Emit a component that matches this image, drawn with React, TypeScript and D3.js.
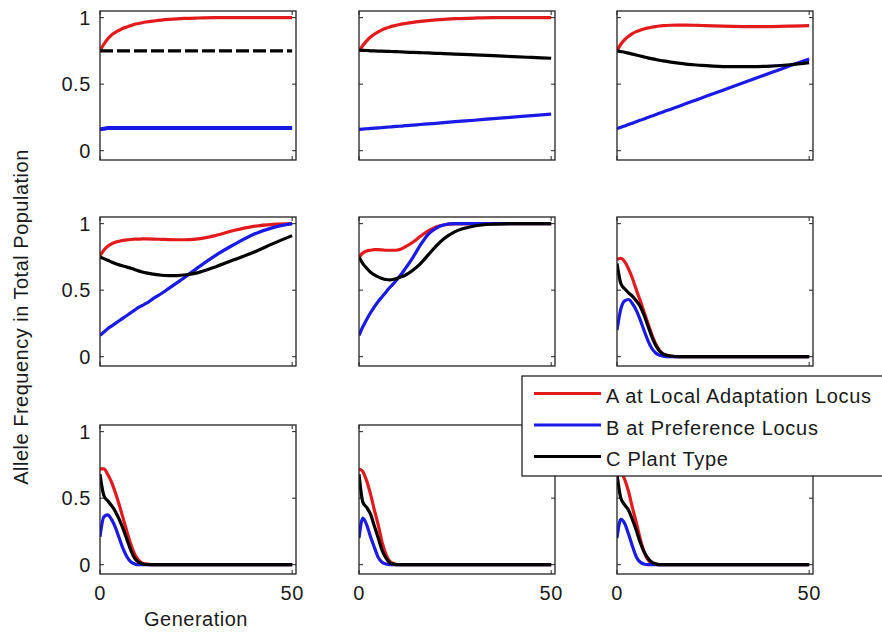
import React from "react";
import * as d3 from "d3";

// Generations at which the allele frequencies are sampled
const GENERATIONS = [0, 1, 2, 3, 4, 5, 6, 7, 8, 9, 10, 11, 12, 14, 16, 18, 20, 22, 25, 30, 35, 40, 45, 50];

// Row 1
const p11Red = [0.75, 0.8, 0.84, 0.87, 0.89, 0.905, 0.92, 0.93, 0.94, 0.95, 0.956, 0.962, 0.967, 0.975, 0.982, 0.987, 0.991, 0.994, 0.997, 1, 1, 1, 1, 1];
const p11Blue = [0.16, 0.165, 0.17, 0.17, 0.17, 0.17, 0.17, 0.17, 0.17, 0.17, 0.17, 0.17, 0.17, 0.17, 0.17, 0.17, 0.17, 0.17, 0.17, 0.17, 0.17, 0.17, 0.17, 0.17];
const p11Black = [0.75, 0.75, 0.75, 0.75, 0.75, 0.75, 0.75, 0.75, 0.75, 0.75, 0.75, 0.75, 0.75, 0.75, 0.75, 0.75, 0.75, 0.75, 0.75, 0.75, 0.75, 0.75, 0.75, 0.75];

const p12Red = [0.75, 0.79, 0.825, 0.855, 0.875, 0.893, 0.908, 0.92, 0.93, 0.938, 0.945, 0.951, 0.956, 0.965, 0.972, 0.978, 0.983, 0.987, 0.992, 0.997, 1, 1, 1, 1];
const p12Blue = [0.16, 0.162, 0.165, 0.167, 0.169, 0.171, 0.174, 0.176, 0.178, 0.181, 0.183, 0.185, 0.188, 0.192, 0.197, 0.201, 0.206, 0.211, 0.218, 0.229, 0.241, 0.252, 0.264, 0.275];
const p12Black = [0.755, 0.754, 0.753, 0.751, 0.75, 0.749, 0.748, 0.747, 0.746, 0.745, 0.744, 0.743, 0.741, 0.739, 0.737, 0.735, 0.732, 0.73, 0.726, 0.72, 0.714, 0.707, 0.701, 0.695];

const p13Red = [0.75, 0.8, 0.835, 0.86, 0.88, 0.895, 0.905, 0.915, 0.922, 0.928, 0.933, 0.937, 0.94, 0.943, 0.944, 0.944, 0.943, 0.941, 0.938, 0.934, 0.932, 0.933, 0.936, 0.94];
const p13Blue = [0.165, 0.176, 0.186, 0.197, 0.207, 0.218, 0.228, 0.239, 0.249, 0.26, 0.27, 0.281, 0.291, 0.312, 0.333, 0.354, 0.375, 0.396, 0.428, 0.48, 0.533, 0.585, 0.638, 0.69];
const p13Black = [0.75, 0.745, 0.74, 0.733, 0.726, 0.719, 0.712, 0.705, 0.698, 0.692, 0.686, 0.68, 0.675, 0.666, 0.658, 0.651, 0.646, 0.641, 0.636, 0.632, 0.632, 0.636, 0.646, 0.662];

// Row 2
const p21Red = [0.76, 0.8, 0.83, 0.848, 0.86, 0.868, 0.874, 0.878, 0.881, 0.883, 0.884, 0.885, 0.885, 0.884, 0.882, 0.88, 0.879, 0.879, 0.884, 0.91, 0.95, 0.98, 0.995, 1];
const p21Blue = [0.16, 0.185, 0.21, 0.23, 0.25, 0.27, 0.29, 0.31, 0.33, 0.35, 0.37, 0.385, 0.4, 0.44, 0.475, 0.515, 0.555, 0.595, 0.66, 0.76, 0.845, 0.92, 0.97, 1];
const p21Black = [0.75, 0.737, 0.725, 0.712, 0.7, 0.69, 0.682, 0.673, 0.665, 0.655, 0.645, 0.637, 0.63, 0.62, 0.612, 0.609, 0.61, 0.614, 0.628, 0.675, 0.73, 0.785, 0.85, 0.91];

const p22Red = [0.75, 0.78, 0.795, 0.8, 0.805, 0.805, 0.803, 0.8, 0.8, 0.8, 0.802, 0.81, 0.825, 0.86, 0.905, 0.945, 0.975, 0.99, 0.998, 1, 1, 1, 1, 1];
const p22Blue = [0.16, 0.225, 0.28, 0.33, 0.375, 0.415, 0.45, 0.485, 0.52, 0.55, 0.585, 0.62, 0.66, 0.745, 0.84, 0.92, 0.965, 0.99, 1, 1, 1, 1, 1, 1];
const p22Black = [0.75, 0.7, 0.665, 0.635, 0.615, 0.6, 0.588, 0.58, 0.578, 0.582, 0.59, 0.6, 0.612, 0.65, 0.7, 0.765, 0.83, 0.885, 0.94, 0.982, 0.996, 1, 1, 1];

const p23Red = [0.73, 0.74, 0.715, 0.66, 0.59, 0.505, 0.425, 0.34, 0.255, 0.17, 0.1, 0.05, 0.02, 0.004, 0, 0, 0, 0, 0, 0, 0, 0, 0, 0];
const p23Blue = [0.2, 0.36, 0.42, 0.43, 0.4, 0.35, 0.28, 0.2, 0.125, 0.065, 0.03, 0.012, 0.004, 0, 0, 0, 0, 0, 0, 0, 0, 0, 0, 0];
const p23Black = [0.7, 0.55, 0.51, 0.48, 0.455, 0.42, 0.38, 0.315, 0.235, 0.155, 0.09, 0.045, 0.02, 0.005, 0, 0, 0, 0, 0, 0, 0, 0, 0, 0];

// Row 3
const p31Red = [0.72, 0.72, 0.68, 0.62, 0.54, 0.45, 0.35, 0.25, 0.155, 0.08, 0.035, 0.012, 0.004, 0, 0, 0, 0, 0, 0, 0, 0, 0, 0, 0];
const p31Blue = [0.21, 0.36, 0.375, 0.34, 0.28, 0.2, 0.12, 0.06, 0.022, 0.006, 0, 0, 0, 0, 0, 0, 0, 0, 0, 0, 0, 0, 0, 0];
const p31Black = [0.68, 0.52, 0.48, 0.445, 0.4, 0.34, 0.27, 0.19, 0.11, 0.05, 0.02, 0.007, 0.002, 0, 0, 0, 0, 0, 0, 0, 0, 0, 0, 0];

const p32Red = [0.72, 0.7, 0.63, 0.53, 0.41, 0.3, 0.17, 0.08, 0.025, 0.008, 0, 0, 0, 0, 0, 0, 0, 0, 0, 0, 0, 0, 0, 0];
const p32Blue = [0.2, 0.35, 0.3, 0.21, 0.13, 0.055, 0.018, 0.005, 0, 0, 0, 0, 0, 0, 0, 0, 0, 0, 0, 0, 0, 0, 0, 0];
const p32Black = [0.68, 0.47, 0.43, 0.38, 0.29, 0.2, 0.11, 0.05, 0.015, 0.004, 0, 0, 0, 0, 0, 0, 0, 0, 0, 0, 0, 0, 0, 0];

const p33Red = [0.72, 0.7, 0.64, 0.55, 0.43, 0.32, 0.2, 0.1, 0.04, 0.012, 0.003, 0, 0, 0, 0, 0, 0, 0, 0, 0, 0, 0, 0, 0];
const p33Blue = [0.2, 0.34, 0.31, 0.23, 0.14, 0.06, 0.02, 0.005, 0, 0, 0, 0, 0, 0, 0, 0, 0, 0, 0, 0, 0, 0, 0, 0];
const p33Black = [0.68, 0.5, 0.45, 0.41, 0.34, 0.26, 0.17, 0.1, 0.05, 0.02, 0.007, 0, 0, 0, 0, 0, 0, 0, 0, 0, 0, 0, 0, 0];

const Y_TICKS = [0, 0.5, 1];
const Y_TICK_LABELS = ["0", "0.5", "1"];
const X_TICKS = [0, 50];
const X_TICK_LABELS = ["0", "50"];
const SERIES_LABELS = ["A at Local Adaptation Locus", "B at Preference Locus", "C Plant Type"];
const SERIES_COLORS = ["#e31a1c", "#1a1ae6", "#000000"];
const Y_LABEL = "Allele Frequency in Total Population";
const X_LABEL = "Generation";

// Panels in reading order, each holding A, B, C series
const PANELS = [
  [p11Red, p11Blue, p11Black],
  [p12Red, p12Blue, p12Black],
  [p13Red, p13Blue, p13Black],
  [p21Red, p21Blue, p21Black],
  [p22Red, p22Blue, p22Black],
  [p23Red, p23Blue, p23Black],
  [p31Red, p31Blue, p31Black],
  [p32Red, p32Blue, p32Black],
  [p33Red, p33Blue, p33Black],
];

// Layout
const COL_X = [100, 359, 617];
const ROW_Y = [11, 217, 425];
const PW = 196;
const PH = 149;
const TICK = 4;
const FONT = "'Liberation Sans', Arial, Helvetica, sans-serif";
const TEXT_COLOR = "#1a1a1a";

function Panel({ idx, series }: { idx: number; series: number[][] }) {
  const col = idx % 3;
  const row = Math.floor(idx / 3);
  const x0 = COL_X[col];
  const y0 = ROW_Y[row];
  const x = d3.scaleLinear().domain([0, 51]).range([x0, x0 + PW]);
  const y = d3.scaleLinear().domain([-0.07, 1.05]).range([y0 + PH, y0]);
  const line = d3
    .line<number>()
    .x((_, i) => x(GENERATIONS[i]))
    .y((d) => y(d))
    .curve(d3.curveMonotoneX);

  return (
    <g>
      <rect x={x0} y={y0} width={PW} height={PH} fill="#fff" />
      <defs>
        <clipPath id={`clip-${idx}`}>
          <rect x={x0} y={y0} width={PW} height={PH} />
        </clipPath>
      </defs>
      <g clipPath={`url(#clip-${idx})`}>
        {series.map((vals, si) => (
          <path
            key={si}
            d={line(vals) || ""}
            fill="none"
            stroke={SERIES_COLORS[si]}
            strokeWidth={si === 1 && idx === 0 ? 4 : 3.2}
            strokeDasharray={idx === 0 && si === 2 ? "13 4" : undefined}
            strokeLinejoin="round"
          />
        ))}
      </g>
      <rect x={x0} y={y0} width={PW} height={PH} fill="none" stroke="#222" strokeWidth={1.3} />
      {Y_TICKS.map((t) => (
        <g key={`yt${t}`}>
          <line x1={x0} x2={x0 + TICK} y1={y(t)} y2={y(t)} stroke="#222" strokeWidth={1} />
          <line x1={x0 + PW - TICK} x2={x0 + PW} y1={y(t)} y2={y(t)} stroke="#222" strokeWidth={1} />
        </g>
      ))}
      {X_TICKS.map((t) => (
        <g key={`xt${t}`}>
          <line x1={x(t)} x2={x(t)} y1={y0 + PH} y2={y0 + PH - TICK} stroke="#222" strokeWidth={1} />
          <line x1={x(t)} x2={x(t)} y1={y0} y2={y0 + TICK} stroke="#222" strokeWidth={1} />
        </g>
      ))}
      {col === 0 &&
        Y_TICKS.map((t, i) => (
          <text
            key={`yl${t}`}
            x={x0 - 9}
            y={y(t)}
            textAnchor="end"
            dominantBaseline="central"
            fontSize={20}
            letterSpacing={0.6}
            fontFamily={FONT}
            fill={TEXT_COLOR}
          >
            {Y_TICK_LABELS[i]}
          </text>
        ))}
      {row === 2 &&
        X_TICKS.map((t, i) => (
          <text
            key={`xl${t}`}
            x={x(t)}
            y={y0 + PH + 26}
            textAnchor="middle"
            fontSize={20}
            letterSpacing={0.6}
            fontFamily={FONT}
            fill={TEXT_COLOR}
          >
            {X_TICK_LABELS[i]}
          </text>
        ))}
    </g>
  );
}

export default function App() {
  const legendX = 522;
  const legendY = 376;
  const rowGap = 31.5;
  return (
    <svg
      width={882}
      height={632}
      style={{ position: "absolute", left: 0, top: 0, background: "#fff" }}
    >
      <rect x={0} y={0} width={882} height={632} fill="#fff" />
      {PANELS.map((s, i) => (
        <Panel key={i} idx={i} series={s} />
      ))}
      <text
        transform={`translate(21, 317) rotate(-90)`}
        textAnchor="middle"
        dominantBaseline="central"
        fontSize={20}
        letterSpacing={0.5}
        fontFamily={FONT}
        fill={TEXT_COLOR}
      >
        {Y_LABEL}
      </text>
      <text
        x={196}
        y={626}
        textAnchor="middle"
        fontSize={20}
        letterSpacing={0.5}
        fontFamily={FONT}
        fill={TEXT_COLOR}
      >
        {X_LABEL}
      </text>
      <g>
        <rect
          x={legendX}
          y={legendY}
          width={380}
          height={100}
          fill="#fff"
          stroke="#222"
          strokeWidth={1.3}
        />
        {SERIES_LABELS.map((label, i) => {
          const base = legendY + 27 + i * rowGap;
          return (
            <g key={label}>
              <line
                x1={legendX + 12}
                x2={legendX + 79}
                y1={base - 9.5}
                y2={base - 9.5}
                stroke={SERIES_COLORS[i]}
                strokeWidth={3}
              />
              <text
                x={legendX + 84}
                y={base}
                fontSize={20}
                letterSpacing={0.7}
                fontFamily={FONT}
                fill={TEXT_COLOR}
              >
                {label}
              </text>
            </g>
          );
        })}
      </g>
    </svg>
  );
}
